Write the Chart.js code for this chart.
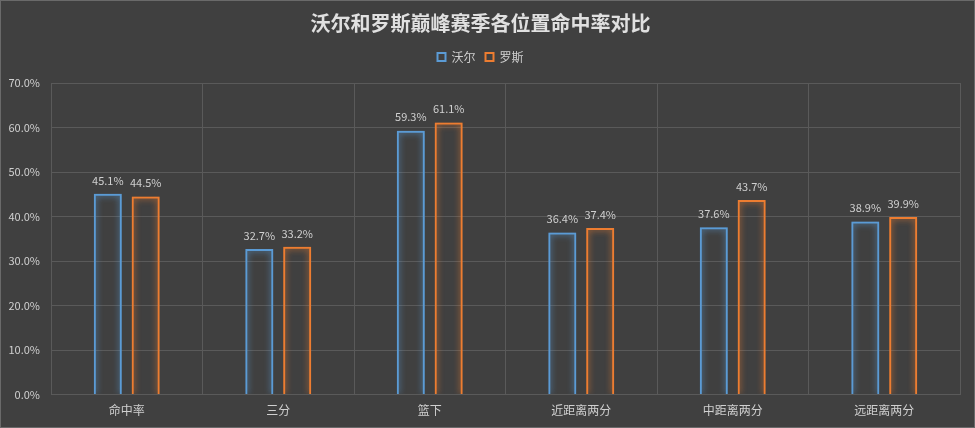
<!DOCTYPE html>
<html>
<head>
<meta charset="utf-8">
<script src="https://cdn.jsdelivr.net/npm/chart.js@4/dist/chart.umd.min.js"></script>
<style>
    html, body { margin: 0; padding: 0; background: #404040; }
    #wrap { width: 975px; height: 428px; position: relative; box-sizing: border-box; border: 1px solid #6a6a6a; }
</style>
</head>
<body>
<div id="wrap"><canvas id="chart"></canvas></div>
<script>
// Chart data
const categories = ['命中率', '三分', '篮下', '近距离两分', '中距离两分', '远距离两分'];
const wallValues = [45.1, 32.7, 59.3, 36.4, 37.6, 38.9];
const roseValues = [44.5, 33.2, 61.1, 37.4, 43.7, 39.9];
const seriesNames = ['沃尔', '罗斯'];

const FONT = '"Noto Sans CJK SC", "Noto Sans", sans-serif';

// Glow around the bar outlines
const glowPlugin = {
    id: 'glow',
    beforeDatasetDraw(chart, args) {
        const ctx = chart.ctx;
        ctx.save();
        ctx.shadowColor = chart.data.datasets[args.index].borderColor;
        ctx.shadowBlur = 6;
    },
    afterDatasetDraw(chart) {
        chart.ctx.restore();
    }
};

// Extra space under the legend
const legendGap = {
    id: 'legendGap',
    beforeInit(chart) {
        const fit = chart.legend.fit;
        chart.legend.fit = function() {
            fit.bind(chart.legend)();
            this.height += 10;
        };
    }
};

// Value labels above each bar
const labelPlugin = {
    id: 'valueLabels',
    afterDatasetsDraw(chart) {
        const ctx = chart.ctx;
        ctx.save();
        ctx.font = '11px ' + FONT;
        ctx.fillStyle = '#d0d0d0';
        ctx.textAlign = 'center';
        ctx.textBaseline = 'bottom';
        chart.data.datasets.forEach((ds, i) => {
            chart.getDatasetMeta(i).data.forEach((bar, j) => {
                ctx.fillText(ds.data[j].toFixed(1) + '%', bar.x, bar.y - 8);
            });
        });
        ctx.restore();
    }
};

new Chart(document.getElementById('chart'), {
    type: 'bar',
    data: {
        labels: categories,
        datasets: [{
            label: seriesNames[0],
            data: wallValues,
            backgroundColor: 'rgba(0,0,0,0)',
            borderColor: '#5b9bd5',
            borderWidth: 2
        }, {
            label: seriesNames[1],
            data: roseValues,
            backgroundColor: 'rgba(0,0,0,0)',
            borderColor: '#ed7d31',
            borderWidth: 2
        }]
    },
    options: {
        responsive: true,
        maintainAspectRatio: false,
        animation: false,
        devicePixelRatio: 1,
        categoryPercentage: 0.5,
        barPercentage: 0.74,
        layout: { padding: { left: 0, right: 14, top: 6, bottom: 0 } },
        scales: {
            x: {
                grid: { color: '#5a5a5a', offset: true, drawTicks: false },
                border: { color: '#5a5a5a' },
                ticks: { color: '#d0d0d0', font: { family: FONT, size: 12 }, padding: 9 }
            },
            y: {
                min: 0,
                max: 70,
                grid: { color: '#5a5a5a', drawTicks: false },
                border: { display: false },
                afterFit(scale) { scale.width = 50; },
                ticks: {
                    stepSize: 10,
                    color: '#d0d0d0',
                    font: { family: FONT, size: 11 },
                    padding: 11,
                    callback: v => v.toFixed(1) + '%'
                }
            }
        },
        plugins: {
            title: {
                display: true,
                text: '沃尔和罗斯巅峰赛季各位置命中率对比',
                color: '#e0e0e0',
                font: { family: FONT, size: 20, weight: 'bold' },
                padding: { top: 4, bottom: 6 }
            },
            legend: {
                labels: {
                    color: '#d0d0d0',
                    font: { family: FONT, size: 12 },
                    boxWidth: 8,
                    boxHeight: 8,
                    padding: 10
                }
            },
            tooltip: { enabled: false }
        }
    },
    plugins: [glowPlugin, legendGap, labelPlugin]
});
</script>
</body>
</html>
